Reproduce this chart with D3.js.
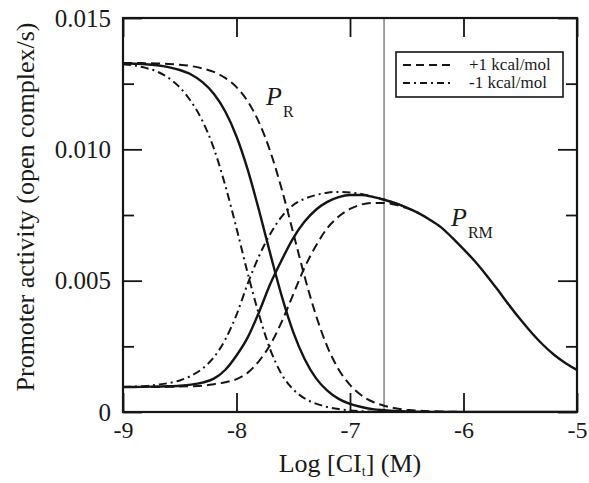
<!DOCTYPE html>
<html>
<head>
<meta charset="utf-8">
<script src="https://cdn.jsdelivr.net/npm/d3@7/dist/d3.min.js"></script>
<style>
  html, body { margin: 0; padding: 0; background: #fff; }
  svg { display: block; }
  text { font-family: "Liberation Serif", "Times New Roman", serif; fill: #1a1a1a; }
</style>
</head>
<body>
<svg id="chart" width="589" height="483"></svg>
<script>
// ---------------- DATA ----------------
const logCI = [-9.0,-8.9,-8.8,-8.7,-8.6,-8.5,-8.4,-8.3,-8.2,-8.1,-8.0,-7.9,-7.8,-7.7,-7.6,-7.5,-7.4,-7.3,-7.2,-7.1,-7.0,
               -6.9,-6.8,-6.7,-6.6,-6.5,-6.4,-6.3,-6.2,-6.1,-6.0,-5.9,-5.8,-5.7,-5.6,-5.5,-5.4,-5.3,-5.2,-5.1,-5.0];

// P_R activity
const prSolid   = [0.01328,0.01326,0.01324,0.01320,0.01313,0.01302,0.01285,0.01256,0.01212,0.01145,0.01049,0.00921,0.00765,0.00598,0.00439,0.00304,0.00202,0.00129,0.00081,0.00050,0.00031,
                   0.00019,0.00011,0.00007,0.00004,0.00002,0.00001,0,0,0,0,0,0,0,0,0,0,0,0,0,0];
const prPlus1   = [0.01329,0.01329,0.01328,0.01327,0.01325,0.01322,0.01317,0.01308,0.01295,0.01272,0.01237,0.01182,0.01101,0.00989,0.00846,0.00682,0.00516,0.00368,0.00249,0.00162,0.00103,
                   0.00064,0.00039,0.00024,0.00014,0.00009,0.00005,0.00003,0.00002,0.00001,0,0,0,0,0,0,0,0,0,0,0];
const prMinus1  = [0.01324,0.01319,0.01310,0.01296,0.01272,0.01236,0.01182,0.01108,0.01004,0.00864,0.00700,0.00526,0.00368,0.00235,0.00142,0.00086,0.00052,0.00032,0.00019,0.00011,0.00006,
                   0.00003,0.00001,0,0,0,0,0,0,0,0,0,0,0,0,0,0,0,0,0,0];

// P_RM activity
const prmSolid  = [0.00095,0.00095,0.00096,0.00097,0.00098,0.00100,0.00104,0.00112,0.00127,0.00160,0.00215,0.00285,0.00382,0.00490,0.00580,0.00662,0.00725,0.00770,0.00800,0.00818,0.00826,
                   0.00826,0.00819,0.00808,0.00795,0.00778,0.00758,0.00733,0.00704,0.00664,0.00620,0.00574,0.00522,0.00466,0.00408,0.00353,0.00302,0.00256,0.00217,0.00186,0.00160];
const prmPlus1  = [0.00095,0.00095,0.00095,0.00095,0.00096,0.00097,0.00098,0.00100,0.00106,0.00113,0.00125,0.00150,0.00195,0.00258,0.00345,0.00448,0.00550,0.00633,0.00700,0.00744,0.00773,
                   0.00790,0.00796,0.00796,0.00789,0.00776,0.00758];
const prmMinus1 = [0.00095,0.00097,0.00099,0.00104,0.00110,0.00120,0.00138,0.00165,0.00208,0.00275,0.00370,0.00490,0.00595,0.00680,0.00745,0.00788,0.00812,0.00826,0.00835,0.00838,0.00836,
                   0.00830,0.00820,0.00809,0.00795,0.00778];

const markerLog = [-6.7];

const xTicks = [-9,-8,-7,-6,-5];
const xTickLabels = ["-9","-8","-7","-6","-5"];
const yTicks = [0,0.005,0.010,0.015];
const yTickLabels = ["0","0.005","0.010","0.015"];
const yMinorTicks = [0.0025,0.0075,0.0125];

const legendLabels = ["+1 kcal/mol","-1 kcal/mol"];

// ---------------- LAYOUT ----------------
const svg = d3.select("#chart");
const L = 123, R = 577, T = 18, B = 412;
const x = d3.scaleLinear().domain([-9,-5]).range([L,R]);
const y = d3.scaleLinear().domain([0,0.015]).range([B,T]);
const ink = "#151515";
const MAJ = 19, MIN = 11;

svg.append("defs").append("clipPath").attr("id","plotclip")
  .append("rect").attr("x",L).attr("y",T).attr("width",R-L).attr("height",B-T);

// vertical marker line
svg.append("g").selectAll("line").data(markerLog).join("line")
  .attr("x1",d=>x(d)).attr("x2",d=>x(d)).attr("y1",T).attr("y2",B)
  .attr("stroke","#8a8a8a").attr("stroke-width",1.6);

// curves
const line = d3.line().x(d=>x(d[0])).y(d=>y(d[1])).curve(d3.curveMonotoneX);
const series = [
  {v: prPlus1,   dash: "9,5",       w: 2.0},
  {v: prMinus1,  dash: "8,4,2,4",   w: 2.0},
  {v: prmPlus1,  dash: "9,5",       w: 2.0},
  {v: prmMinus1, dash: "8,4,2,4",   w: 2.0},
  {v: prSolid,   dash: null,        w: 2.4},
  {v: prmSolid,  dash: null,        w: 2.4}
];
const cg = svg.append("g").attr("clip-path","url(#plotclip)");
series.forEach(s => {
  const pts = s.v.map((val,i)=>[logCI[i], val]);
  cg.append("path").datum(pts)
    .attr("d", line).attr("fill","none").attr("stroke", ink)
    .attr("stroke-width", s.w)
    .attr("stroke-dasharray", s.dash)
    .attr("stroke-linejoin","round");
});

// axes (ticks inward on all sides)
function styleAxis(g){
  g.select(".domain").remove();
  g.selectAll(".tick line").attr("stroke", ink).attr("stroke-width", 1.8);
  g.selectAll(".tick text").attr("font-family",'"Liberation Serif","Times New Roman",serif')
    .attr("fill","#1a1a1a");
}
svg.append("g").attr("transform",`translate(0,${B})`)
  .call(d3.axisBottom(x).tickValues(xTicks).tickFormat((d,i)=>xTickLabels[i]).tickSizeInner(-MAJ).tickSizeOuter(0).tickPadding(9))
  .call(styleAxis).selectAll(".tick text").attr("font-size",24);
svg.append("g").attr("transform",`translate(0,${T})`)
  .call(d3.axisTop(x).tickValues(xTicks).tickFormat("").tickSizeInner(-MAJ).tickSizeOuter(0))
  .call(styleAxis);
svg.append("g").attr("transform",`translate(${L},0)`)
  .call(d3.axisLeft(y).tickValues(yTicks).tickFormat((d,i)=>yTickLabels[i]).tickSizeInner(-MAJ).tickSizeOuter(0).tickPadding(12))
  .call(styleAxis).selectAll(".tick text").attr("font-size",25);
svg.append("g").attr("transform",`translate(${L},0)`)
  .call(d3.axisLeft(y).tickValues(yMinorTicks).tickFormat("").tickSizeInner(-MIN).tickSizeOuter(0))
  .call(styleAxis);
svg.append("g").attr("transform",`translate(${R},0)`)
  .call(d3.axisRight(y).tickValues(yTicks).tickFormat("").tickSizeInner(-MAJ).tickSizeOuter(0))
  .call(styleAxis);
svg.append("g").attr("transform",`translate(${R},0)`)
  .call(d3.axisRight(y).tickValues(yMinorTicks).tickFormat("").tickSizeInner(-MIN).tickSizeOuter(0))
  .call(styleAxis);

// frame
svg.append("rect").attr("x",L).attr("y",T).attr("width",R-L).attr("height",B-T)
  .attr("fill","none").attr("stroke",ink).attr("stroke-width",2.2);

// axis titles
const xt = svg.append("text").attr("x",(L+R)/2).attr("y",472).attr("text-anchor","middle").attr("font-size",26);
xt.append("tspan").text("Log [CI");
xt.append("tspan").attr("font-size",14).attr("dy",4).text("t");
xt.append("tspan").attr("dy",-4).text("] (M)");

svg.append("text").attr("transform","translate(34,207) rotate(-90)")
  .attr("text-anchor","middle").attr("font-size",26)
  .text("Promoter activity (open complex/s)");

// curve labels
function promLabel(px, py, sub){
  const t = svg.append("text").attr("x",px).attr("y",py).attr("font-size",26);
  t.append("tspan").attr("font-style","italic").text("P");
  t.append("tspan").attr("font-size",16).attr("dx",1).attr("dy",12).text(sub);
}
promLabel(266,105,"R");
promLabel(451,226,"RM");

// legend
const lg = svg.append("g");
lg.append("rect").attr("x",396).attr("y",52).attr("width",167).attr("height",45)
  .attr("fill","#fff").attr("stroke",ink).attr("stroke-width",1.6);
const legDash = ["8,5","7,4,2,4"];
legendLabels.forEach((lab,i)=>{
  const yy = 65 + i*18;
  lg.append("line").attr("x1",403).attr("x2",452).attr("y1",yy).attr("y2",yy)
    .attr("stroke",ink).attr("stroke-width",2).attr("stroke-dasharray",legDash[i]);
  lg.append("text").attr("x",469).attr("y",yy+5).attr("font-size",17).text(lab);
});
</script>
</body>
</html>
